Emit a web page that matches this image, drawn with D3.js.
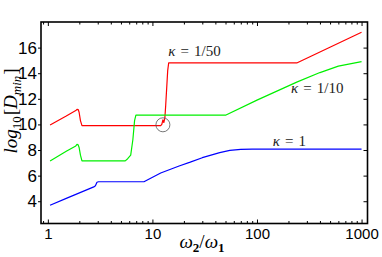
<!DOCTYPE html>
<html>
<head>
<meta charset="utf-8">
<script src="https://cdn.jsdelivr.net/npm/d3@7"></script>
<style>
  html, body { margin: 0; padding: 0; background: #fff; }
  svg { display: block; }
  .serif { font-family: "Liberation Serif", "DejaVu Serif", serif; }
  .sans { font-family: "Liberation Sans", Arial, sans-serif; }
</style>
</head>
<body>
<svg id="chart" width="382" height="257"></svg>
<script>
// --- datos: [ω2/ω1, log10 Dmin] ---------------------------------------------
const kappa50 = [
  [1.05, 9.96], [1.5, 10.65], [1.85, 11.08], [1.9, 11.18], [1.95, 11.16],
  [1.99, 10.95], [2.05, 10.3], [2.12, 9.9], [12.0, 9.9], [12.3, 10.0],
  [12.6, 10.35], [12.85, 10.15], [13.15, 10.5], [13.4, 11.5], [14.0, 14.2],
  [14.3, 14.8], [240, 14.8], [1000, 17.2]
];
const kappa10 = [
  [1.05, 7.15], [1.5, 7.9], [1.85, 8.32], [1.9, 8.44], [1.95, 8.4],
  [1.99, 8.2], [2.05, 7.6], [2.12, 7.15], [5.5, 7.15], [5.8, 7.32],
  [6.2, 7.6], [6.5, 8.8], [6.75, 10.3], [6.95, 10.72], [50, 10.72],
  [100, 11.9], [240, 13.3], [400, 14.05], [600, 14.55], [1000, 14.9]
];
const kappa1 = [
  [1.05, 3.69], [1.5, 4.22], [2.75, 5.12], [2.85, 5.2], [2.95, 5.48],
  [3.05, 5.52], [8.3, 5.52], [12, 6.2], [18, 6.75], [23, 7.05], [30, 7.4],
  [44, 7.8], [55, 7.97], [70, 8.05], [90, 8.07], [1000, 8.07]
];
const seriesNames = ["1/50", "1/10", "1"];
const seriesColors = ["#ff0000", "#00f000", "#0000ff"];
const xMajor = [1, 10, 100, 1000];
const yTicks = [4, 6, 8, 10, 12, 14, 16];
// etiquetas κ (posición en coordenadas de datos) y círculo marcado
const labelAt = [[14.2, 15.35], [212, 12.45], [141.6, 8.3]];
const circleAt = [12.6, 9.97];

// --- marco del gráfico ------------------------------------------------------
const F = { left: 41, top: 22, right: 367.5, bottom: 223.5 };
const svg = d3.select("#chart");

const x = d3.scaleLog().domain([0.86, 1140]).range([F.left, F.right]);
const y = d3.scaleLinear().domain([2.26, 18]).range([F.bottom, F.top]);

const plot = svg.append("g");
plot.append("defs").append("clipPath").attr("id", "clip")
  .append("rect").attr("x", F.left).attr("y", F.top)
  .attr("width", F.right - F.left).attr("height", F.bottom - F.top);

const line = d3.line().x(d => x(d[0])).y(d => y(d[1]));
[kappa50, kappa10, kappa1].forEach((s, i) => {
  plot.append("path").datum(s)
    .attr("clip-path", "url(#clip)")
    .attr("d", line)
    .attr("fill", "none")
    .attr("stroke", seriesColors[i])
    .attr("stroke-width", 1.2)
    .attr("stroke-linejoin", "round");
});

// círculo gris sobre el salto de κ=1/50
plot.append("circle")
  .attr("cx", x(circleAt[0])).attr("cy", y(circleAt[1])).attr("r", 7)
  .attr("fill", "none").attr("stroke", "#555").attr("stroke-width", 0.8);

// --- ejes -------------------------------------------------------------------
const allX = x.ticks();       // 1..9, 10..90, 100..1000
const minorX = allX.filter(v => !xMajor.includes(v));
const noLab = () => "";

function strip(g) { g.select(".domain").remove(); }

// abajo: marcas hacia dentro, etiquetas en décadas
svg.append("g").attr("transform", `translate(0,${F.bottom})`)
  .call(d3.axisBottom(x).tickValues(minorX).tickSize(-2.5).tickFormat(noLab))
  .call(strip);
svg.append("g").attr("class", "sans").attr("transform", `translate(0,${F.bottom})`)
  .call(d3.axisBottom(x).tickValues(xMajor).tickSize(-4).tickPadding(5).tickFormat(d3.format("d")))
  .call(strip)
  .call(g => g.selectAll("text").attr("font-size", 15).attr("fill", "#000")
    .attr("font-family", "Liberation Sans, Arial, sans-serif"));

// arriba: sólo marcas
svg.append("g").attr("transform", `translate(0,${F.top})`)
  .call(d3.axisTop(x).tickValues(minorX).tickSize(-2.5).tickFormat(noLab)).call(strip);
svg.append("g").attr("transform", `translate(0,${F.top})`)
  .call(d3.axisTop(x).tickValues(xMajor).tickSize(-4).tickFormat(noLab)).call(strip);

// izquierda: marcas cortas hacia fuera
svg.append("g").attr("transform", `translate(${F.left},0)`)
  .call(d3.axisLeft(y).tickValues(yTicks).tickSize(3).tickPadding(1))
  .call(strip)
  .call(g => g.selectAll("text").attr("font-size", 17).attr("fill", "#000")
    .attr("font-family", "Liberation Sans, Arial, sans-serif"));

// derecha: marcas hacia dentro
svg.append("g").attr("transform", `translate(${F.right},0)`)
  .call(d3.axisRight(y).tickValues(yTicks).tickSize(-4).tickFormat(noLab)).call(strip);

svg.selectAll(".tick line").attr("stroke", "#000").attr("stroke-width", 1);

svg.append("rect")
  .attr("x", F.left).attr("y", F.top)
  .attr("width", F.right - F.left).attr("height", F.bottom - F.top)
  .attr("fill", "none").attr("stroke", "#000").attr("stroke-width", 1.6);

// --- etiquetas κ --------------------------------------------------------------
seriesNames.forEach((name, i) => {
  const t = svg.append("text").attr("class", "serif")
    .attr("x", x(labelAt[i][0])).attr("y", y(labelAt[i][1]))
    .attr("font-size", 15).attr("fill", "#222");
  t.append("tspan").attr("font-style", "italic").text("κ");
  t.append("tspan").attr("dx", 5).text("=");
  t.append("tspan").attr("dx", 5).text(name);
});

// --- títulos de ejes ------------------------------------------------------------
const xt = svg.append("text").attr("class", "serif")
  .attr("x", 202).attr("y", 248).attr("text-anchor", "middle")
  .attr("font-size", 19).attr("fill", "#000");
xt.append("tspan").attr("font-style", "italic").text("ω");
xt.append("tspan").attr("font-weight", "bold").attr("font-size", 13).attr("dy", 4).text("2");
xt.append("tspan").attr("dy", -4).text("/");
xt.append("tspan").attr("font-style", "italic").text("ω");
xt.append("tspan").attr("font-weight", "bold").attr("font-size", 13).attr("dy", 4).text("1");

const yt = svg.append("text").attr("class", "serif")
  .attr("transform", "translate(17,111) rotate(-90)")
  .attr("text-anchor", "middle").attr("font-size", 19).attr("fill", "#000");
yt.append("tspan").attr("font-style", "italic").text("log");
yt.append("tspan").attr("font-size", 13).attr("dy", 4).text("10");
yt.append("tspan").attr("dy", -4).attr("dx", 1).text("[");
yt.append("tspan").attr("font-style", "italic").text("D");
yt.append("tspan").attr("font-style", "italic").attr("font-size", 13).attr("dy", 4).text("min");
yt.append("tspan").attr("dy", -4).attr("dx", 1).text("]");
</script>
</body>
</html>
